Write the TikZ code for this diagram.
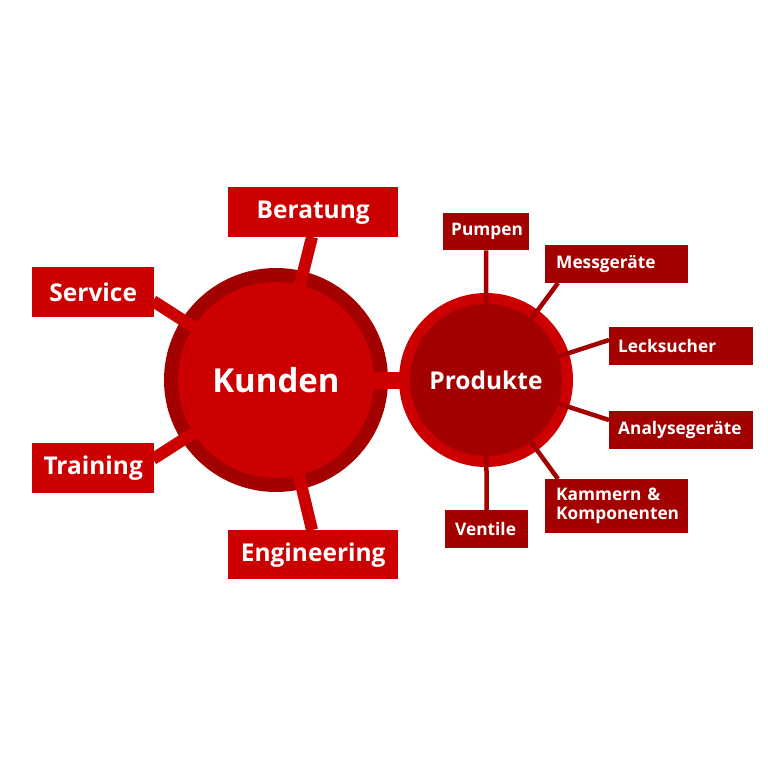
\documentclass[tikz,border=0pt]{standalone}
\usepackage{fontspec}
\setmainfont{Open Sans}
\definecolor{lred}{HTML}{CC0000}
\definecolor{dred}{HTML}{A30000}
\begin{document}
\begin{tikzpicture}[x=1pt,y=-1pt,
  lbox/.style={fill=lred,text=white,font=\bfseries\fontsize{24.5}{26}\selectfont,inner sep=0pt,anchor=north west},
  rbox/.style={fill=dred,text=white,font=\bfseries\fontsize{17.3}{19}\selectfont,inner xsep=11pt,inner ysep=0pt,anchor=north west,align=left},
  lline/.style={draw=lred,line width=12pt},
  rline/.style={draw=dred,line width=4.5pt}]
\useasboundingbox (0,0) rectangle (767,767);
% centers
\coordinate (kc) at (276,380);
\coordinate (pc) at (486,380);
% left boxes
\node[lbox,minimum width=170pt,minimum height=50pt] (ber) at (228,187) {Beratung};
\node[lbox,minimum width=170pt,minimum height=49pt] (eng) at (228,530) {Engineering};
\node[lbox,minimum width=122pt,minimum height=50pt] (ser) at (32,267) {Service};
\node[lbox,minimum width=122pt,minimum height=50pt] (tra) at (32,443) {Training};
% right boxes
\node[rbox,text width=70pt,minimum height=37pt,inner xsep=8pt] (pum) at (443,213) {Pumpen};
\node[rbox,text width=121pt,minimum height=38pt] (mes) at (545,245) {Messgeräte};
\node[rbox,text width=126pt,minimum height=38pt,inner xsep=9pt] (lec) at (609,327) {Lecksucher};
\node[rbox,text width=126pt,minimum height=38pt,inner xsep=9pt] (ana) at (609,411) {Analysegeräte};
\node[rbox,text width=121pt,minimum height=54pt] (kam) at (545,479) {Kammern \&\\Komponenten};
\node[rbox,text width=63pt,minimum height=38pt,inner xsep=10pt] (ven) at (445,510) {Ventile};
% Kunden circle
\fill[dred] (kc) circle[radius=112];
\draw[lline] (kc) -- (312,237);
\draw[lline] (kc) -- (312,530);
\draw[lline] (kc) -- (153,301);
\draw[lline] (kc) -- (153,459);
\fill[lred] (kc) circle[radius=98];
% link bar
\draw[draw=lred,line width=17pt] (kc) -- (pc);
\node[text=white,font=\bfseries\fontsize{33}{35}\selectfont] (kun) at (kc) {Kunden};
% Produkte circle
\fill[lred] (pc) circle[radius=87];
\draw[rline] (pc) -- (pum.south);
\draw[rline] (pc) -- (ven.north);
\draw[rline] (pc) -- (558,283);
\draw[rline] (pc) -- (558,479);
\draw[rline] (pc) -- (609,340);
\draw[rline] (pc) -- (609,420);
\fill[dred] (pc) circle[radius=76];
\node[text=white,font=\bfseries\fontsize{24.5}{26}\selectfont] (pro) at (pc) {Produkte};
\end{tikzpicture}
\end{document}
